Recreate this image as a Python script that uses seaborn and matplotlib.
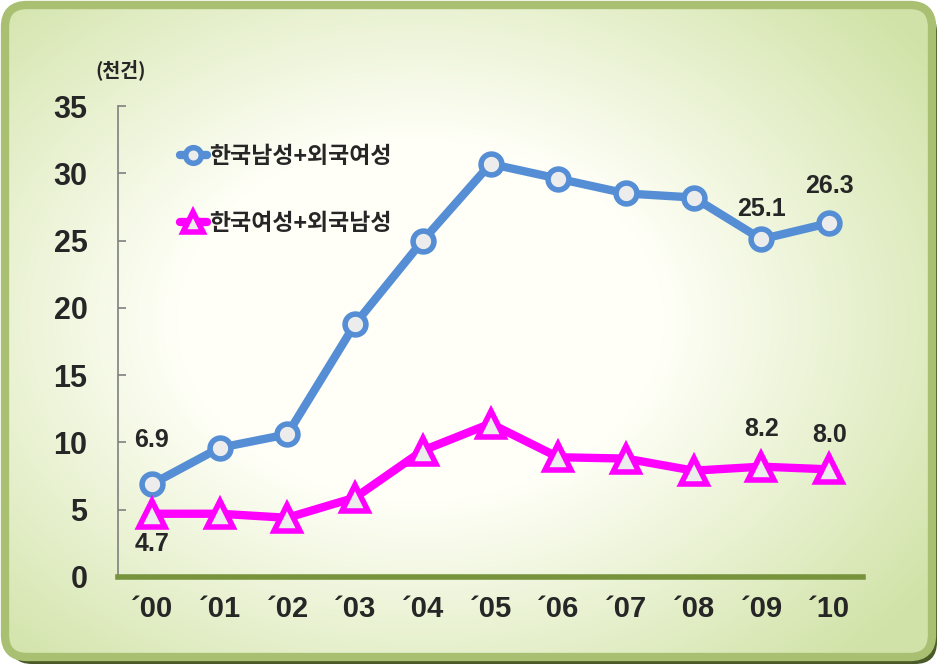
import numpy as np
import pandas as pd
import matplotlib
matplotlib.use("Agg")
import matplotlib.pyplot as plt
from matplotlib.patches import FancyBboxPatch
import seaborn as sns

years = ["´00", "´01", "´02", "´03", "´04", "´05", "´06", "´07", "´08", "´09", "´10"]
male_korean = [6.9, 9.6, 10.6, 18.8, 25.0, 30.7, 29.6, 28.5, 28.2, 25.1, 26.3]
female_korean = [4.7, 4.7, 4.4, 5.9, 9.4, 11.4, 8.9, 8.8, 7.9, 8.2, 8.0]
series_names = ["한국남성+외국여성", "한국여성+외국남성"]
yticks = [0, 5, 10, 15, 20, 25, 30, 35]

sns.set_style("white")
plt.rcParams["font.family"] = ["Liberation Sans", "Noto Sans CJK KR", "DejaVu Sans"]

fig = plt.figure(figsize=(9.41, 6.68), dpi=100)

# background: rounded frame with radial white -> green gradient
bg = fig.add_axes([0, 0, 1, 1], zorder=-10)
bg.set_xlim(0, 941)
bg.set_ylim(668, 0)
bg.axis("off")
yy, xx = np.mgrid[0:668, 0:941]
r = np.sqrt(((xx - 420) / 540.0) ** 2 + ((yy - 320) / 400.0) ** 2)
t = np.clip((r - 0.45) / 0.7, 0, 1)
white = np.array([1.0, 1.0, 0.97])
green = np.array([0.82, 0.89, 0.66])
img = white + (green - white) * t[..., None]
shadow = FancyBboxPatch((10, 10), 927, 654, boxstyle="round,pad=0,rounding_size=22",
                        fc="#4a5a28", ec="none")
bg.add_patch(shadow)
im = bg.imshow(img, extent=(0, 941, 668, 0), zorder=1)
clip = FancyBboxPatch((7, 7), 923, 648, boxstyle="round,pad=0,rounding_size=20",
                      fc="none", ec="none", transform=bg.transData)
bg.add_patch(clip)
im.set_clip_path(clip)
frame = FancyBboxPatch((5, 5), 927, 652, boxstyle="round,pad=0,rounding_size=22",
                       fc="none", ec="#a9bf72", lw=6, zorder=2)
bg.add_patch(frame)

ax = fig.add_axes([118 / 941, 91 / 668, 745 / 941, 471 / 668])
ax.patch.set_alpha(0)

df = pd.DataFrame({"x": np.arange(len(years)), "a": male_korean, "b": female_korean})

sns.lineplot(data=df, x="x", y="a", ax=ax, color="#558ed5", lw=6, marker="o",
             markersize=15, markerfacecolor="#ececec", markeredgecolor="#558ed5",
             markeredgewidth=4, label=series_names[0], zorder=3)
sns.lineplot(data=df, x="x", y="b", ax=ax, color="#ff00ff", lw=6, marker="^",
             markersize=19, markerfacecolor="#ececec", markeredgecolor="#ff00ff",
             markeredgewidth=4, label=series_names[1], zorder=3)

ax.set_xlim(-0.5, len(years) - 0.5)
ax.set_ylim(0, 35)
ax.set_yticks(yticks)
ax.set_xticks(df["x"])
ax.set_xticklabels(years)
ax.set_xlabel("")
ax.set_ylabel("")

for s in ["top", "right"]:
    ax.spines[s].set_visible(False)
ax.spines["left"].set_color("#808080")
ax.spines["left"].set_linewidth(1.2)
ax.spines["bottom"].set_color("#77933c")
ax.spines["bottom"].set_linewidth(4)
ax.tick_params(axis="y", direction="in", length=6, color="#808080", width=1.2,
               left=True, pad=22, labelsize=22)
ax.tick_params(axis="x", length=0, pad=13, labelsize=21)
for lab in ax.get_yticklabels() + ax.get_xticklabels():
    lab.set_fontweight("bold")

# value labels
labels = [(0, male_korean[0], 32), (9, male_korean[9], 22), (10, male_korean[10], 27),
          (0, female_korean[0], -22), (9, female_korean[9], 27), (10, female_korean[10], 25)]
for i, v, dy in labels:
    ax.annotate(f"{v:.1f}", (i, v), xytext=(0, dy), textcoords="offset points",
                ha="center", va="center", fontsize=18, fontweight="bold",
                family=["Liberation Sans", "DejaVu Sans"])

ax.text(-0.46, 37.7, "(천건)", ha="center", va="center", fontsize=14,
        fontweight="bold", family=["Noto Sans CJK KR", "DejaVu Sans"])

leg = ax.legend(loc="upper left", bbox_to_anchor=(0.055, 0.96), frameon=False,
                handlelength=1.2, handletextpad=0.1, labelspacing=1.9, markerscale=0.75,
                prop={"family": "Noto Sans CJK KR", "weight": "bold", "size": 16.5})

fig.savefig("out.png", dpi=100)
